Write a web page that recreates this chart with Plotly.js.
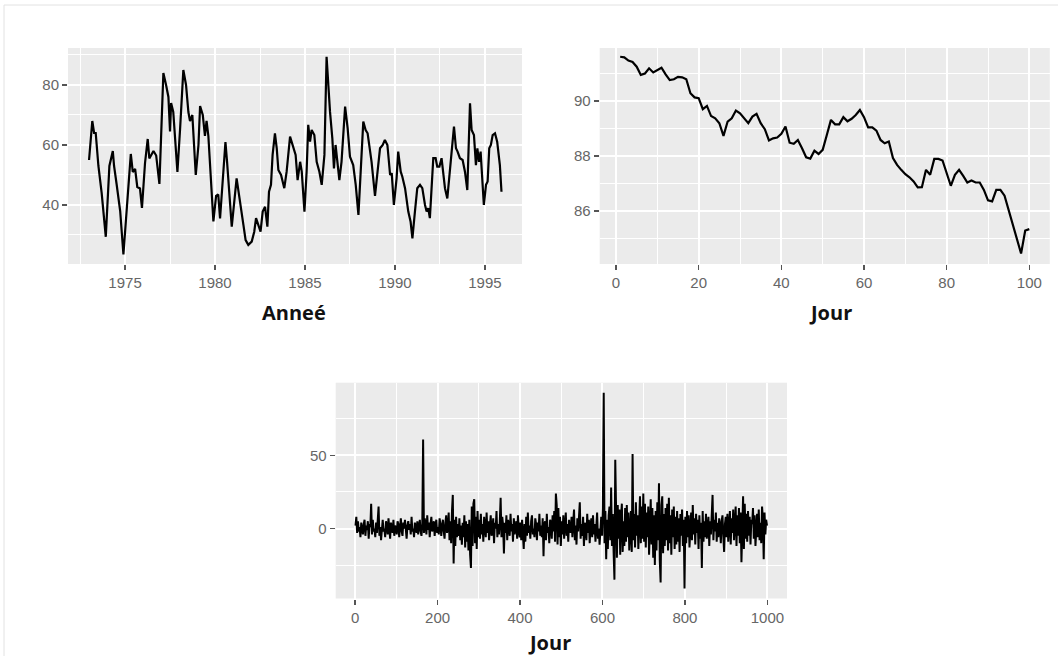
<!DOCTYPE html>
<html>
<head>
<meta charset="utf-8">
<script src="https://cdn.plot.ly/plotly-3.0.1.min.js"></script>
<style>
  html, body { margin: 0; padding: 0; background: #ffffff; }
  #chart { width: 1058px; height: 656px; }
</style>
</head>
<body>
<div id="chart"></div>
<script>
// ---------- Panel 1 : série mensuelle (Année) ----------
const annee1 = [1973.00, 1973.18, 1973.28, 1973.37, 1973.52, 1973.70, 1973.93, 1974.13, 1974.32, 1974.39,
  1974.53, 1974.73, 1974.91, 1975.09, 1975.32, 1975.43, 1975.56, 1975.68, 1975.83, 1975.94,
  1976.11, 1976.26, 1976.35, 1976.58, 1976.73, 1976.91, 1977.13, 1977.28, 1977.41, 1977.50,
  1977.56, 1977.68, 1977.91, 1978.06, 1978.24, 1978.39, 1978.52, 1978.61, 1978.74, 1978.93,
  1979.08, 1979.17, 1979.32, 1979.44, 1979.53, 1979.63, 1979.91, 1980.06, 1980.18, 1980.28,
  1980.58, 1980.67, 1980.78, 1980.93, 1981.20, 1981.30, 1981.44, 1981.58, 1981.70, 1981.85,
  1982.04, 1982.18, 1982.28, 1982.41, 1982.53, 1982.65, 1982.78, 1982.91, 1983.00, 1983.11,
  1983.20, 1983.33, 1983.43, 1983.52, 1983.67, 1983.85, 1983.98, 1984.17, 1984.35, 1984.48,
  1984.59, 1984.73, 1984.82, 1984.97, 1985.09, 1985.18, 1985.28, 1985.37, 1985.52, 1985.65,
  1985.80, 1985.93, 1986.08, 1986.20, 1986.39, 1986.52, 1986.61, 1986.70, 1986.82, 1986.91,
  1987.03, 1987.23, 1987.37, 1987.50, 1987.68, 1987.82, 1987.97, 1988.11, 1988.24, 1988.37,
  1988.48, 1988.61, 1988.70, 1988.89, 1989.02, 1989.17, 1989.32, 1989.44, 1989.58, 1989.73,
  1989.82, 1989.94, 1990.09, 1990.18, 1990.32, 1990.41, 1990.56, 1990.74, 1990.87, 1990.97,
  1991.11, 1991.24, 1991.39, 1991.52, 1991.67, 1991.76, 1991.85, 1991.94, 1992.13, 1992.26,
  1992.35, 1992.47, 1992.59, 1992.78, 1992.91, 1993.06, 1993.20, 1993.28, 1993.39, 1993.48,
  1993.61, 1993.76, 1993.89, 1994.02, 1994.17, 1994.26, 1994.39, 1994.50, 1994.58, 1994.67,
  1994.76, 1994.87, 1994.94, 1995.06, 1995.15, 1995.24, 1995.33, 1995.43, 1995.56, 1995.68,
  1995.78, 1995.83, 1995.92];
const valeurs1 = [55, 68, 64, 64, 53, 44, 29.4, 53, 58, 53,
  47, 38, 23.5, 38, 57, 51, 52, 46, 45.5, 39,
  54, 62, 55.5, 58, 56.5, 47, 84, 80, 76, 64.5,
  74, 71, 51, 65.5, 85, 80, 71, 68, 70, 50,
  60, 73, 70, 63, 68, 63, 34.5, 43, 43.5, 35.5,
  61, 54.4, 44.4, 32.8, 48.9, 44.4, 37.8, 33.3, 28.3, 26.7,
  27.8, 31.1, 35.6, 33.3, 31.1, 37.8, 39.4, 32.8, 44.4, 46.7,
  56.7, 63.9, 58.9, 51.7, 50, 45.6, 51.1, 62.8, 58.9, 56.7,
  48.3, 54.4, 51.1, 37.8, 51.1, 66.7, 61.1, 65, 63.3, 54.4,
  51.1, 46.7, 56.7, 89.4, 71.1, 62.2, 52.2, 60, 53.3, 48.3,
  54.4, 72.8, 65.6, 56.1, 53.3, 46.7, 36.7, 53.3, 67.8, 65,
  63.9, 58.3, 54.4, 43, 51.1, 58.9, 60, 61.7, 60, 50,
  50.6, 40, 48.9, 57.8, 51.1, 49.4, 45.6, 37.8, 34.4, 28.9,
  37.8, 45.6, 46.7, 45.6, 40, 37.8, 38.9, 35.6, 55.6, 55.6,
  52.8, 52.8, 55.6, 45.6, 42.2, 51.1, 60, 66.1, 58.9, 57.8,
  55.6, 55, 51.1, 45, 73.9, 65, 63.3, 53.3, 58.9, 54.4,
  57.8, 46.7, 40, 46.7, 47.8, 58.9, 60, 63.3, 63.9, 61.1,
  54.4, 53.3, 44.4];
const ticks1x = [1975, 1980, 1985, 1990, 1995];
const ticks1y = [40, 60, 80];

// ---------- Panel 2 : 100 jours ----------
const valeurs2 = [91.61, 91.59, 91.47, 91.42, 91.25, 90.95, 91.0, 91.19, 91.04, 91.13,
  91.21, 90.97, 90.76, 90.79, 90.88, 90.86, 90.79, 90.28, 90.13, 90.10,
  89.70, 89.82, 89.45, 89.37, 89.19, 88.73, 89.25, 89.37, 89.65, 89.55,
  89.37, 89.19, 89.43, 89.53, 89.19, 88.97, 88.56, 88.64, 88.67, 88.80,
  89.07, 88.48, 88.44, 88.58, 88.28, 87.95, 87.90, 88.19, 88.07, 88.22,
  88.76, 89.31, 89.15, 89.15, 89.41, 89.26, 89.35, 89.49, 89.67, 89.41,
  89.04, 89.04, 88.92, 88.58, 88.46, 88.52, 87.92, 87.67, 87.49, 87.33,
  87.22, 87.07, 86.85, 86.86, 87.49, 87.31, 87.89, 87.89, 87.83, 87.37,
  86.91, 87.31, 87.49, 87.27, 87.03, 87.10, 87.03, 87.03, 86.76, 86.38,
  86.34, 86.76, 86.76, 86.55, 86.04, 85.49, 84.97, 84.44, 85.28, 85.33];
const jours2 = valeurs2.map((_, i) => i + 1);
const ticks2x = [0, 20, 40, 60, 80, 100];
const ticks2y = [86, 88, 90];

// ---------- Panel 3 : 1000 jours (un point tous les 2 jours) ----------
const valeurs3 = [
  2, 8, -3, 5, -2, 1, -6, 4, 0, -4, 3, 6, -5, 2, -1, 5, -7, 3, 1, 17, -4, 6, -2, 0, -6,
  4, -3, 7, 15, -5, 1, -8, 3, 6, -2, 0, -6, 5, 2, -4, 7, -1, -7, 4, 1, -3, 6, -5, 2, 0,
  -4, 5, 3, -6, 1, 7, -2, -5, 4, 0, 6, -3, -7, 2, 5, -1, 3, -4, 8, -2, 0, -6, 4, 2, -3,
  5, -4, 1, 6, -2, -5, 3, 61, -3, 7, 2, -4, 9, -1, 4, -6, 3, 8, -2, 0, 5, -5, 2, 6, -3,
  1, -4, 7, 3, -5, 2, 6, -2, -7, 4, 9, -3, 0, 11, -8, 5, -10, 12, 23, -24, 6, -12, 8, -6, 3,
  -5, 7, -8, 2, -11, 4, -6, 9, -13, 5, -9, 3, -15, 6, -18, -27, 15, -12, 17, 20, -10, 8, -14, 12, -6,
  6, -7, 10, -4, 3, -9, 8, 1, -6, 11, -3, 5, -8, 2, 9, -5, -1, 7, -10, 4, 0, 12, -6, 3, -4,
  5, 21, -6, 8, 2, -17, 4, -3, 9, -8, 6, 0, -5, 10, -2, 3, -9, 7, -4, 1, 5, -7, 9, -1, -6,
  4, -8, 6, -11, -14, 3, -9, 8, -5, 11, -3, 2, -7, 5, 9, -4, 0, -6, 7, 3, -8, 4, -2, 10, -5,
  2, -6, 7, -19, 3, 5, -8, 10, -3, 1, -10, 6, 4, -7, 9, -2, 12, -9, 24, 16, -11, 14, -6, 8, -12,
  5, -4, 9, -7, 2, 11, -5, 3, -9, 6, 0, -3, 8, -6, 4, 13, -8, 2, -11, 7, -2, 5, 18, -7, 3,
  -5, 8, -12, 4, 1, -8, 10, -3, 6, -10, 2, 7, -6, 9, -4, 3, -9, 5, 11, -7, 0, -11, 6, 8, -5,
  14, 93, -10, 12, -21, 6, -14, 9, 15, -8, 28, -12, 10, -16, -35, 47, 11, -20, 16, -7, 13, -18, 8, 17, -16,
  5, -12, 14, -9, 16, -6, 11, -15, 7, 12, -16, 51, -8, 10, -13, 18, -5, 9, -14, 13, 22, -10, 15, -7, 24,
  -9, 17, -13, 11, -6, 15, -18, 8, 20, -11, 14, -20, 9, -25, 12, -15, 18, -8, 31, -22, -37, 16, 22, -17, 10,
  -12, 14, -8, 17, -15, 21, -10, 9, -18, 13, -6, 15, -14, 8, -11, 12, -9, 7, -16, 10, -5, 13, -12, 6, -41,
  8, -10, 12, -6, 9, -13, 5, 11, -8, 16, -4, 7, -11, 10, -3, 6, -14, 9, -7, 4, -27, 12, -9, 5, -6,
  10, -7, 3, 8, -12, 5, -4, 9, 23, -8, 6, -2, 11, -9, 4, -6, 7, 2, -10, 5, 9, -5, -16, 3, 8,
  -6, 10, -9, 4, 12, -11, 7, -3, 13, -8, 2, 15, -12, 9, -5, 14, -10, 11, -23, 8, 22, -14, 17, -7, 10,
  -9, 12, -5, 8, -11, 6, 3, 14, -7, 9, -12, 5, 10, -6, 13, -8, 4, -10, 15, 7, -21, 11, -4, 6, 2];
const jours3 = valeurs3.map((_, i) => 1 + 2 * i);
const ticks3x = [0, 200, 400, 600, 800, 1000];
const ticks3y = [0, 50];

// ---------- Style ----------
const W = 1058, H = 656;
const px = v => v / W;
const py = v => 1 - v / H;

const tickFont = { family: 'Liberation Sans, Arial, sans-serif', size: 15, color: '#666666' };
function axis(extra) {
  return Object.assign({
    showgrid: true, gridcolor: '#ffffff', gridwidth: 2,
    zeroline: false, showline: false,
    ticks: 'outside', ticklen: 5, tickwidth: 1.5, tickcolor: '#555555',
    tickfont: tickFont, tickmode: 'array', fixedrange: true
  }, extra);
}
function minor(dtick, tick0) {
  return { showgrid: true, gridcolor: '#ffffff', gridwidth: 1, ticks: '', dtick: dtick, tick0: tick0, tickmode: 'linear' };
}

const traces = [
  { x: annee1, y: valeurs1, xaxis: 'x', yaxis: 'y', type: 'scatter', mode: 'lines',
    line: { color: '#000000', width: 2.2 }, hoverinfo: 'skip' },
  { x: jours2, y: valeurs2, xaxis: 'x2', yaxis: 'y2', type: 'scatter', mode: 'lines',
    line: { color: '#000000', width: 2.2 }, hoverinfo: 'skip' },
  { x: jours3, y: valeurs3, xaxis: 'x3', yaxis: 'y3', type: 'scatter', mode: 'lines',
    line: { color: '#000000', width: 2 }, hoverinfo: 'skip' }
];

const titleFont = { family: 'Open Sans, DejaVu Sans, sans-serif', size: 20, color: '#111111' };

const layout = {
  width: W, height: H,
  margin: { l: 0, r: 0, t: 0, b: 0 },
  paper_bgcolor: '#ffffff',
  plot_bgcolor: '#ebebeb',
  showlegend: false,
  xaxis: axis({ domain: [px(68), px(522)], range: [1971.83, 1997.06], anchor: 'y',
    tickvals: ticks1x, minor: minor(2.5, 1975) }),
  yaxis: axis({ domain: [py(264), py(48)], range: [20.33, 92.33], anchor: 'x',
    tickvals: ticks1y, minor: minor(10, 30) }),
  xaxis2: axis({ domain: [px(599.7), px(1049.8)], range: [-3.95, 104.95], anchor: 'y2',
    tickvals: ticks2x, minor: minor(10, 0) }),
  yaxis2: axis({ domain: [py(264), py(48)], range: [84.06, 91.93], anchor: 'x2',
    tickvals: ticks2y, minor: minor(1, 85) }),
  xaxis3: axis({ domain: [px(335.7), px(787)], range: [-47, 1047.5], anchor: 'y3',
    tickvals: ticks3x, minor: minor(100, 0) }),
  yaxis3: axis({ domain: [py(598.5), py(382.7)], range: [-47.9, 99.8], anchor: 'x3',
    tickvals: ticks3y, minor: minor(25, 0) }),
  annotations: [
    { text: '<b>Anneé</b>', xref: 'paper', yref: 'paper', x: px(294), y: py(313),
      xanchor: 'center', yanchor: 'middle', showarrow: false, font: titleFont },
    { text: '<b>Jour</b>', xref: 'paper', yref: 'paper', x: px(830), y: py(312),
      xanchor: 'center', yanchor: 'middle', showarrow: false, font: titleFont },
    { text: '<b>Jour</b>', xref: 'paper', yref: 'paper', x: px(549), y: py(642),
      xanchor: 'center', yanchor: 'middle', showarrow: false, font: titleFont }
  ],
  shapes: [
    { type: 'line', xref: 'paper', yref: 'paper', x0: px(4), x1: 1, y0: py(5), y1: py(5),
      line: { color: '#e2e2e2', width: 1 } },
    { type: 'line', xref: 'paper', yref: 'paper', x0: px(4), x1: px(4), y0: py(5), y1: 0,
      line: { color: '#e2e2e2', width: 1 } }
  ]
};

Plotly.newPlot('chart', traces, layout, { displayModeBar: false, staticPlot: true });
</script>
</body>
</html>
